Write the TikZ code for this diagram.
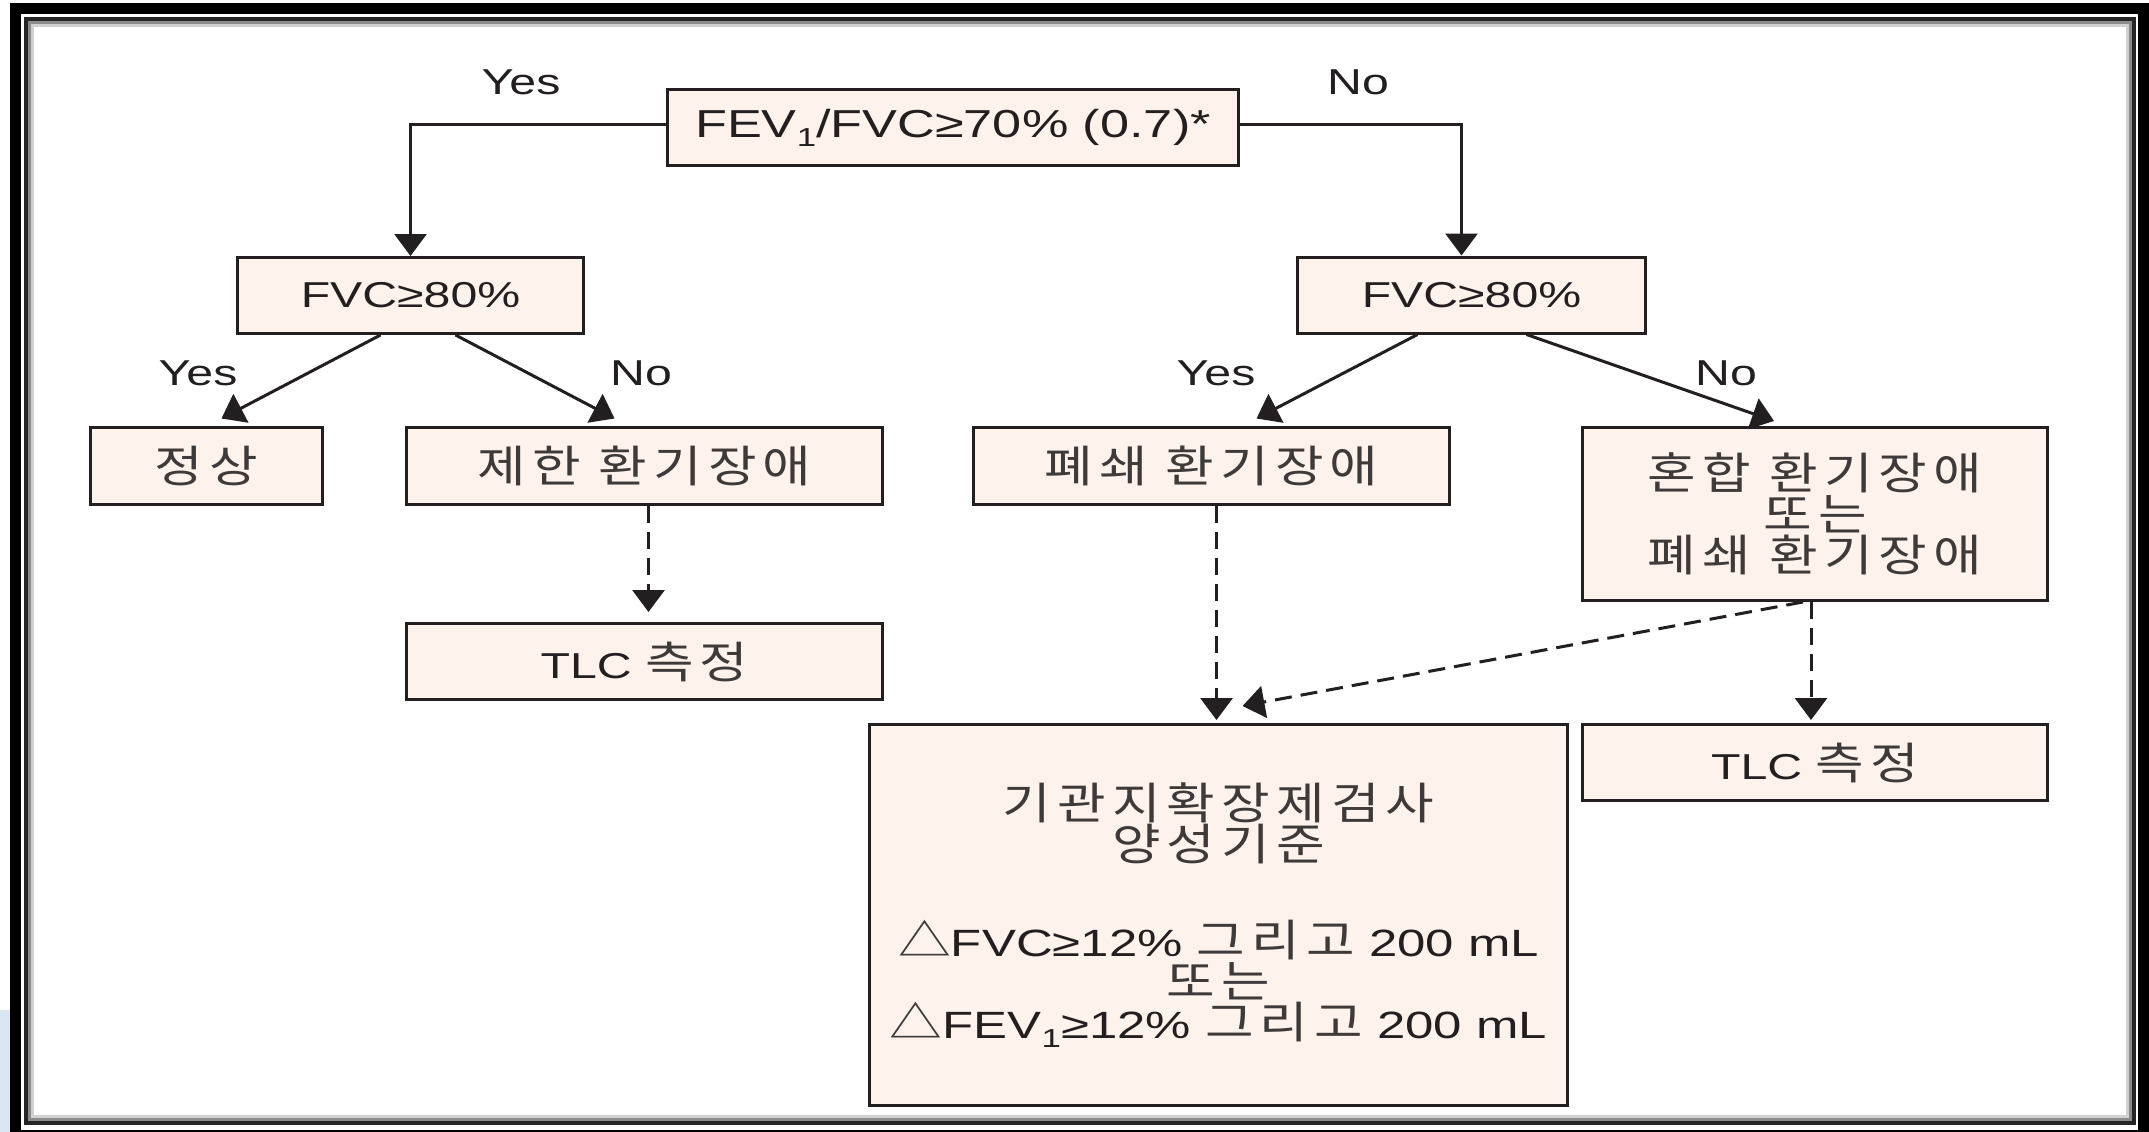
\documentclass[tikz,border=0pt]{standalone}
\usepackage{fontspec}
\setmainfont{Liberation Sans}[FakeStretch=1.34]
\newfontfamily\kr{Noto Sans CJK KR}[FakeStretch=1.2,LetterSpace=14]
\usetikzlibrary{arrows.meta}
\definecolor{boxfill}{RGB}{253,242,236}
\definecolor{ink}{RGB}{35,31,32}
\definecolor{krink}{RGB}{62,58,58}
\definecolor{deskblue}{RGB}{220,230,242}
\newcommand{\krt}[1]{{\kr\fontsize{44}{41}\selectfont\color{krink}#1}}
\newcommand{\subone}{\raisebox{-9pt}{\fontsize{26}{26}\selectfont 1}}
\tikzset{
  box/.style={draw=ink, line width=3pt, fill=boxfill, inner sep=0pt, align=center, text=ink,
              font=\fontsize{36}{41}\selectfont},
  arr/.style={draw=ink, line width=3pt, -{Triangle[length=22pt,width=32pt]}},
  darr/.style={arr, dash pattern=on 17pt off 9pt},
  lbl/.style={text=ink, inner sep=0pt, font=\fontsize{36}{41}\selectfont},
}
\begin{document}
\begin{tikzpicture}[x=1pt,y=-1pt]
\useasboundingbox (0,0) rectangle (2149,1132);
\fill[white] (0,0) rectangle (2149,1132);
\fill[deskblue] (0,1010) rectangle (10,1132);
% frame
\draw[black, line width=11pt] (15.5,8.5) rectangle (2143.5,1135.5);
\draw[black!85, line width=4pt] (26,19) rectangle (2133.5,1122.5);
\draw[black!45, line width=3pt] (29.5,22.5) rectangle (2130,1119);
\draw[black!18, line width=3pt] (32.5,25.5) rectangle (2127,1116);

% boxes
\node[box, minimum width=571pt, minimum height=76pt] (q) at (953,127.5)
  {{\fontsize{39}{41}\selectfont FEV\subone/FVC≥70\% (0.7)*}};
\node[box, minimum width=346pt, minimum height=76pt] (lfvc) at (410.5,295.5) {FVC≥80\%};
\node[box, minimum width=348pt, minimum height=76pt] (rfvc) at (1471.5,295) {FVC≥80\%};
\node[box, minimum width=232pt, minimum height=77pt] (jeong) at (206.5,465.5) {\krt{정상}};
\node[box, minimum width=476pt, minimum height=77pt] (jehan) at (644.5,465.5) {\krt{제한 환기장애}};
\node[box, minimum width=476pt, minimum height=76pt] (tlcl) at (644.5,661.5) {TLC \krt{측정}};
\node[box, minimum width=476pt, minimum height=77pt] (pyeswae) at (1211.5,465.5) {\krt{폐쇄 환기장애}};
\node[box, minimum width=465pt, minimum height=173pt] (honhap) at (1815,514)
  {\krt{혼합 환기장애}\\ \krt{또는}\\ \krt{폐쇄 환기장애}};
\node[box, minimum width=698pt, minimum height=381pt, font=\fontsize{38}{41}\selectfont] (gi) at (1218.5,915)
  {\krt{기관지확장제검사}\\ \krt{양성기준}\\[55pt]
   \krt{△}FVC≥12\% \krt{그리고} 200 mL\\ \krt{또는}\\
   \krt{△}FEV\subone≥12\% \krt{그리고} 200 mL};
\node[box, minimum width=465pt, minimum height=76pt] (tlcr) at (1815,762.5) {TLC \krt{측정}};

% labels
\node[lbl] (l1) at (521,82) {Yes};
\node[lbl] (l2) at (1358,82) {No};
\node[lbl] (l3) at (198,373) {Yes};
\node[lbl] (l4) at (641,373) {No};
\node[lbl] (l5) at (1216,373) {Yes};
\node[lbl] (l6) at (1726,373) {No};

% solid connectors
\draw[arr] ([yshift=3pt]q.west) -| (lfvc.north);
\draw[arr] ([yshift=3pt]q.east) -| ([xshift=-10pt]rfvc.north);
\draw[arr] ([xshift=-30pt]lfvc.south) -- ([xshift=15pt,yshift=7pt]jeong.north);
\draw[arr] ([xshift=45pt]lfvc.south) -- ([xshift=-30pt,yshift=7pt]jehan.north);
\draw[arr] ([xshift=-54pt]rfvc.south) -- ([xshift=45pt,yshift=7pt]pyeswae.north);
\draw[arr] ([xshift=55pt]rfvc.south) -- ([xshift=-41pt,yshift=5pt]honhap.north);

% dashed connectors
\draw[darr] ([xshift=4pt]jehan.south) -- ([xshift=4pt,yshift=10pt]tlcl.north);
\draw[darr] ([xshift=5pt]pyeswae.south) -- ([xshift=5pt,yshift=3pt]pyeswae.south |- gi.north);
\draw[darr] ([xshift=-4pt]honhap.south) -- ([xshift=-4pt,yshift=3pt]honhap.south |- tlcr.north);
\draw[darr] ([xshift=-12pt]honhap.south) -- ([xshift=24pt,yshift=17pt]gi.north);
\end{tikzpicture}
\end{document}
